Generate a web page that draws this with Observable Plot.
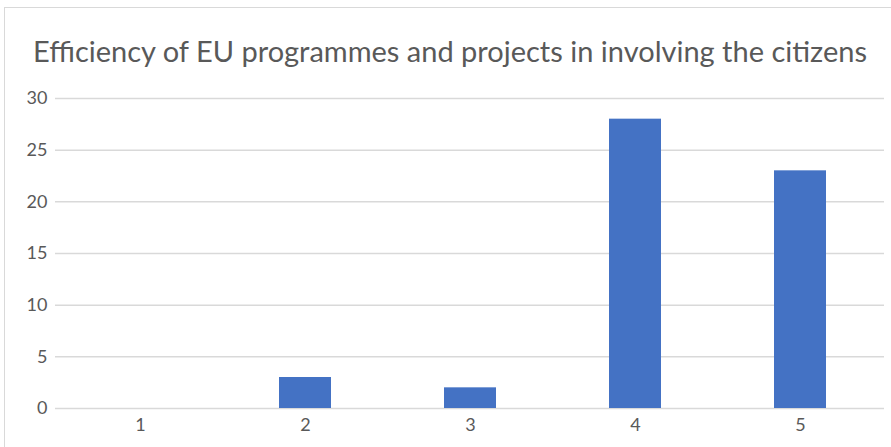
<!DOCTYPE html>
<html>
<head>
<meta charset="utf-8">
<script src="https://cdn.jsdelivr.net/npm/d3@7"></script>
<script src="https://cdn.jsdelivr.net/npm/@observablehq/plot@0.6"></script>
<style>
  html, body { margin: 0; padding: 0; background: #fff; }
  #wrap { position: relative; width: 891px; height: 447px; overflow: hidden; font-family: Lato, "Noto Sans", sans-serif; }
  #frame { position: absolute; left: 4px; top: 7px; width: 900px; height: 460px; border: 1.5px solid #d9d9d9; box-sizing: border-box; }
  #title { position: absolute; left: 0; width: 900px; top: 36px; text-align: center; font-size: 29px; color: #595959; white-space: nowrap; line-height: 1; }
  #chart { position: absolute; left: 0; top: 0; }
</style>
</head>
<body>
<div id="wrap">
  <div id="frame"></div>
  <div id="title">Efficiency of EU programmes and projects in involving the citizens</div>
  <div id="chart"></div>
</div>
<script>
const categories = ["1", "2", "3", "4", "5"];
const values = [0, 3, 2, 28, 23];
const yTicks = [0, 5, 10, 15, 20, 25, 30];

const data = categories.map((c, i) => ({category: c, value: values[i]}));

const chart = Plot.plot({
  width: 891,
  height: 447,
  marginLeft: 55,
  marginRight: 7,
  marginTop: 98,
  marginBottom: 39,
  style: {fontFamily: "Lato, 'Noto Sans', sans-serif", fontSize: "18px", color: "#595959", background: "transparent"},
  x: {domain: categories, paddingInner: 0.685, paddingOuter: 0.3425, label: null},
  y: {domain: [0, 30], label: null},
  marks: [
    Plot.gridY(yTicks, {stroke: "#d9d9d9", strokeOpacity: 1, strokeWidth: 1.5}),
    Plot.barY(data, {x: "category", y: "value", fill: "#4472c4"}),
    Plot.axisY(yTicks, {tickSize: 0, tickPadding: 8, fontSize: 18, fill: "#595959", label: null}),
    Plot.axisX({tickSize: 0, tickPadding: 10, fontSize: 18, fill: "#595959", label: null})
  ]
});
document.getElementById("chart").appendChild(chart);
</script>
</body>
</html>
